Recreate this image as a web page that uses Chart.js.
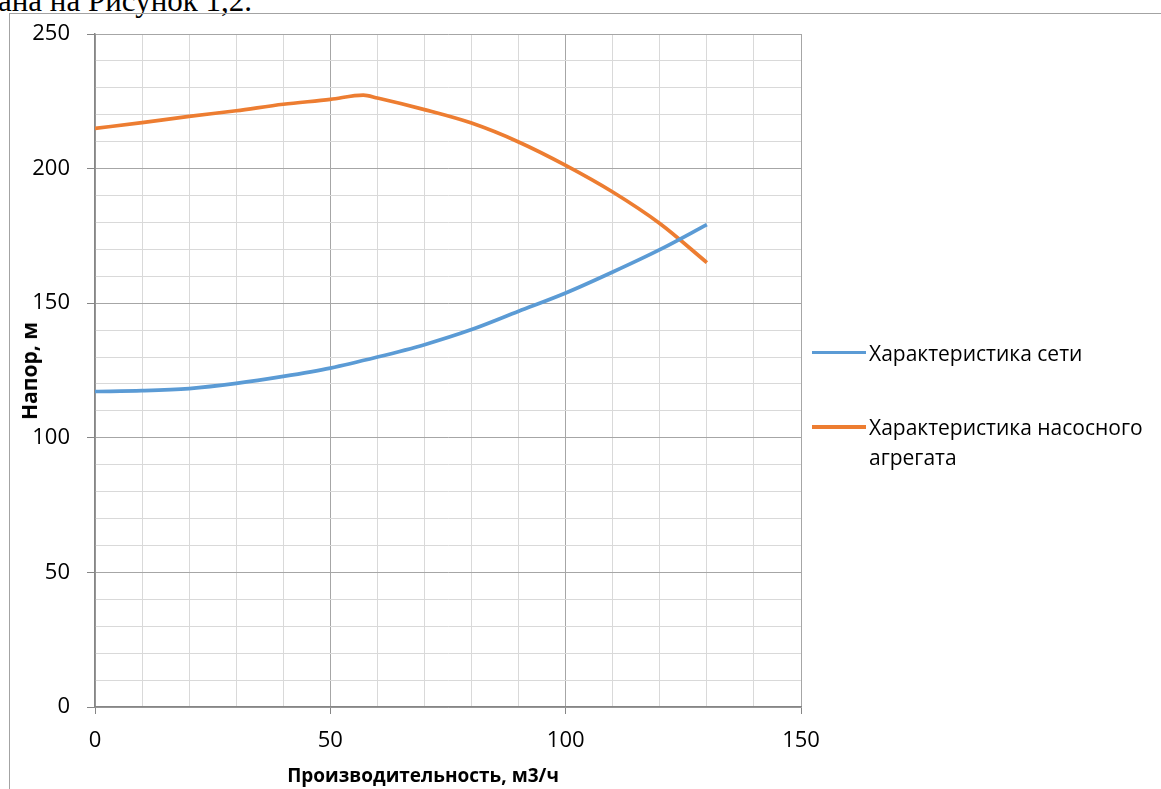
<!DOCTYPE html>
<html>
<head>
<meta charset="utf-8">
<script src="https://cdn.jsdelivr.net/npm/chart.js@4"></script>
<style>
  html, body { margin: 0; padding: 0; background: #fff; overflow: hidden; }
  body { width: 1161px; height: 789px; position: relative; }
  #caption {
    position: absolute; left: -2px; top: -15px;
    font-family: "Liberation Serif", "Times New Roman", serif;
    font-size: 31px; line-height: 31px; color: #000; white-space: nowrap;
  }
  #frame {
    position: absolute; left: 9px; top: 13px; width: 1300px; height: 900px;
    border-left: 1.5px solid #a3a3a3; border-top: 1.5px solid #a3a3a3;
  }
  #wrap { position: absolute; left: 0; top: 0; width: 1161px; height: 789px; }
  .axis-title {
    position: absolute; font-family: "Open Sans", sans-serif; font-weight: bold;
    color: #000; white-space: nowrap;
  }
  #xTitle { left: 423px; top: 775px; font-size: 19px; transform: translate(-50%, -50%); }
  #yTitle { left: 29px; top: 371px; font-size: 21px; transform: translate(-50%, -50%) rotate(-90deg); }
  #legend { position: absolute; left: 812px; top: 0; font-family: "Open Sans", sans-serif; font-size: 21px; color: #000; }
  .item { position: absolute; left: 0; white-space: nowrap; }
  .swatch { position: absolute; left: 0; width: 54px; height: 3.5px; }
  .label { position: absolute; left: 57px; line-height: 30px; }
</style>
</head>
<body>
<div id="caption">ана на Рисунок 1,2.</div>
<div id="frame"></div>
<div id="wrap"><canvas id="pumpChart"></canvas></div>
<div class="axis-title" id="yTitle">Напор, м</div>
<div class="axis-title" id="xTitle">Производительность, м3/ч</div>
<div id="legend"></div>
<script>
// Характеристика сети
const netFlow = [0, 10, 20, 30, 40, 50, 60, 70, 80, 90, 100, 110, 120, 130];
const netHead = [117.2, 117.5, 118.3, 120.2, 122.8, 125.9, 130.0, 134.6, 140.2, 147.0, 153.8, 161.6, 169.9, 179.2];

// Характеристика насосного агрегата
const pumpFlow = [0, 10, 20, 30, 40, 50, 57, 60, 70, 80, 90, 100, 110, 120, 130];
const pumpHead = [214.9, 217.1, 219.4, 221.5, 223.9, 225.7, 227.3, 226.2, 221.9, 216.9, 209.9, 201.2, 191.3, 179.6, 165.1];

const xTickLabels = [0, 50, 100, 150];
const yTickLabels = [0, 50, 100, 150, 200, 250];

const seriesNames = ['Характеристика сети', 'Характеристика насосного агрегата'];
const legendLines = [['Характеристика сети'], ['Характеристика насосного', 'агрегата']];

const blue = '#5B9BD5';
const orange = '#ED7D31';
const minorGrid = '#d9d9d9';
const majorGrid = '#a6a6a6';
const axisGrey = '#868686';

function toPoints(xs, ys) {
    return xs.map((x, i) => ({ x: x, y: ys[i] }));
}

const tickFont = { family: 'Open Sans', size: 22 };

document.addEventListener('DOMContentLoaded', () => {
    const ctx = document.getElementById('pumpChart');
    const chart = new Chart(ctx, {
        type: 'scatter',
        data: {
            datasets: [{
                label: seriesNames[0],
                data: toPoints(netFlow, netHead),
                borderColor: blue,
                backgroundColor: blue,
                borderWidth: 3.7,
                showLine: true,
                pointRadius: 0,
                cubicInterpolationMode: 'monotone'
            }, {
                label: seriesNames[1],
                data: toPoints(pumpFlow, pumpHead),
                borderColor: orange,
                backgroundColor: orange,
                borderWidth: 3.7,
                showLine: true,
                pointRadius: 0,
                cubicInterpolationMode: 'monotone'
            }]
        },
        options: {
            responsive: true,
            maintainAspectRatio: false,
            animation: false,
            layout: { padding: { left: 0, top: 34, right: 360, bottom: 0 } },
            plugins: {
                legend: { display: false },
                tooltip: { enabled: false }
            },
            scales: {
                x: {
                    type: 'linear',
                    min: 0,
                    max: 150,
                    afterFit: scale => { scale.height = 82; },
                    border: { color: axisGrey, width: 1.5 },
                    grid: {
                        color: c => (c.tick && c.tick.value % 50 === 0) ? majorGrid : minorGrid,
                        lineWidth: 1,
                        tickLength: 7,
                        tickColor: c => (c.tick && xTickLabels.includes(c.tick.value)) ? axisGrey : 'rgba(0,0,0,0)'
                    },
                    ticks: {
                        stepSize: 10,
                        autoSkip: false,
                        maxRotation: 0,
                        padding: 14,
                        color: '#000',
                        font: tickFont,
                        callback: v => xTickLabels.includes(v) ? v : ''
                    }
                },
                y: {
                    type: 'linear',
                    min: 0,
                    max: 250,
                    afterFit: scale => { scale.width = 95; },
                    border: { color: axisGrey, width: 1.5 },
                    grid: {
                        color: c => (c.tick && c.tick.value % 50 === 0) ? majorGrid : minorGrid,
                        lineWidth: 1,
                        tickLength: 8,
                        tickColor: c => (c.tick && yTickLabels.includes(c.tick.value)) ? axisGrey : 'rgba(0,0,0,0)'
                    },
                    ticks: {
                        stepSize: 10,
                        autoSkip: false,
                        padding: 17,
                        color: '#000',
                        font: tickFont,
                        callback: v => yTickLabels.includes(v) ? v : ''
                    }
                }
            }
        }
    });

    // legend built from the datasets, placed right of the plot
    const legend = document.getElementById('legend');
    const rowY = [352.5, 427];
    chart.data.datasets.forEach((ds, i) => {
        const item = document.createElement('div');
        item.className = 'item';
        item.style.top = rowY[i] + 'px';
        const sw = document.createElement('div');
        sw.className = 'swatch';
        sw.style.background = ds.borderColor;
        sw.style.top = '-1.75px';
        const lab = document.createElement('div');
        lab.className = 'label';
        lab.style.top = '-15px';
        lab.innerHTML = legendLines[i].join('<br>');
        item.appendChild(sw);
        item.appendChild(lab);
        legend.appendChild(item);
    });
});
</script>
</body>
</html>
